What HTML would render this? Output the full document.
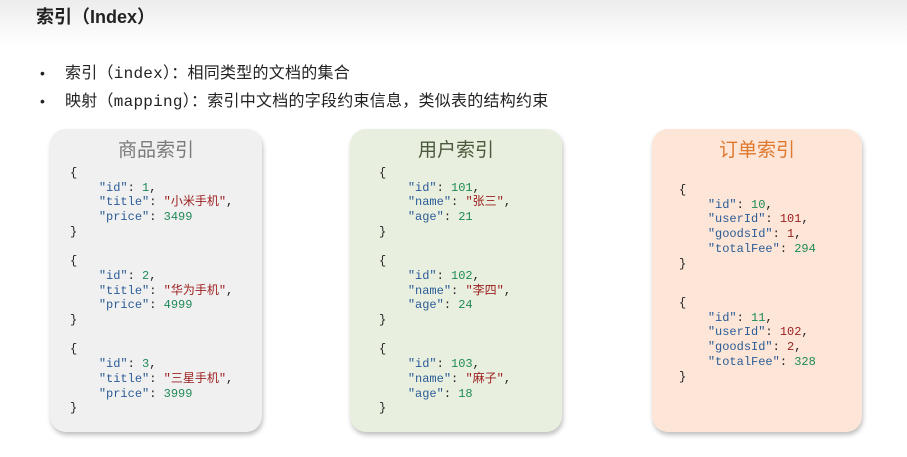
<!DOCTYPE html>
<html><head><meta charset="utf-8"><style>
body{margin:0;width:907px;height:457px;background:#fff;position:relative;overflow:hidden;font-family:"Liberation Sans","Noto Sans CJK SC",sans-serif}
.hdr{position:absolute;left:0;top:0;width:907px;height:45px;background:linear-gradient(#ececec,#fff)}
.t{position:absolute;left:36px;top:3px;font-size:18px;font-weight:bold;color:#222}
.b{position:absolute;left:40px;font-size:16px;color:#222;font-family:"Liberation Mono","Noto Sans CJK SC",monospace;white-space:nowrap;letter-spacing:0.25px}
.b span{display:inline-block;width:25px;font-family:"Liberation Sans",sans-serif;font-size:14px}
.box{position:absolute;top:129px;height:303px;border-radius:16px;box-shadow:1px 3px 5px rgba(0,0,0,.25)}
.h{position:absolute;width:100%;top:6px;text-align:center;font-size:19px}
pre{position:absolute;margin:0;font-family:"Liberation Mono","Noto Sans CJK SC",monospace;font-size:12px;line-height:14.7px;color:#222}
.k{color:#2b5c96}.n{color:#1f8a55}.s{color:#9b1d1d}.r{color:#9b1d1d}
</style></head><body>
<div class="hdr"></div>
<div class="t">索引（Index）</div>
<div class="b" style="top:59px"><span>•</span>索引（index）：相同类型的文档的集合</div>
<div class="b" style="top:87px"><span>•</span>映射（mapping）：索引中文档的字段约束信息，类似表的结构约束</div>

<div class="box" style="left:50px;width:212px;background:#f0f0f0"><div class="h" style="color:#7a7a7a">商品索引</div></div>
<pre style="left:70px;top:166px">{
    <span class="k">"id"</span>: <span class="n">1</span>,
    <span class="k">"title"</span>: <span class="s">"小米手机"</span>,
    <span class="k">"price"</span>: <span class="n">3499</span>
}

{
    <span class="k">"id"</span>: <span class="n">2</span>,
    <span class="k">"title"</span>: <span class="s">"华为手机"</span>,
    <span class="k">"price"</span>: <span class="n">4999</span>
}

{
    <span class="k">"id"</span>: <span class="n">3</span>,
    <span class="k">"title"</span>: <span class="s">"三星手机"</span>,
    <span class="k">"price"</span>: <span class="n">3999</span>
}</pre>

<div class="box" style="left:350px;width:212px;background:#e9efdf"><div class="h" style="color:#4b5a3c">用户索引</div></div>
<pre style="left:379px;top:166px">{
    <span class="k">"id"</span>: <span class="n">101</span>,
    <span class="k">"name"</span>: <span class="s">"张三"</span>,
    <span class="k">"age"</span>: <span class="n">21</span>
}

{
    <span class="k">"id"</span>: <span class="n">102</span>,
    <span class="k">"name"</span>: <span class="s">"李四"</span>,
    <span class="k">"age"</span>: <span class="n">24</span>
}

{
    <span class="k">"id"</span>: <span class="n">103</span>,
    <span class="k">"name"</span>: <span class="s">"麻子"</span>,
    <span class="k">"age"</span>: <span class="n">18</span>
}</pre>

<div class="box" style="left:652px;width:210px;background:#fde6d8"><div class="h" style="color:#e0782e">订单索引</div></div>
<pre style="left:679px;top:183px">{
    <span class="k">"id"</span>: <span class="n">10</span>,
    <span class="k">"userId"</span>: <span class="r">101</span>,
    <span class="k">"goodsId"</span>: <span class="r">1</span>,
    <span class="k">"totalFee"</span>: <span class="n">294</span>
}</pre>
<pre style="left:679px;top:296px">{
    <span class="k">"id"</span>: <span class="n">11</span>,
    <span class="k">"userId"</span>: <span class="r">102</span>,
    <span class="k">"goodsId"</span>: <span class="r">2</span>,
    <span class="k">"totalFee"</span>: <span class="n">328</span>
}</pre>
</body></html>
